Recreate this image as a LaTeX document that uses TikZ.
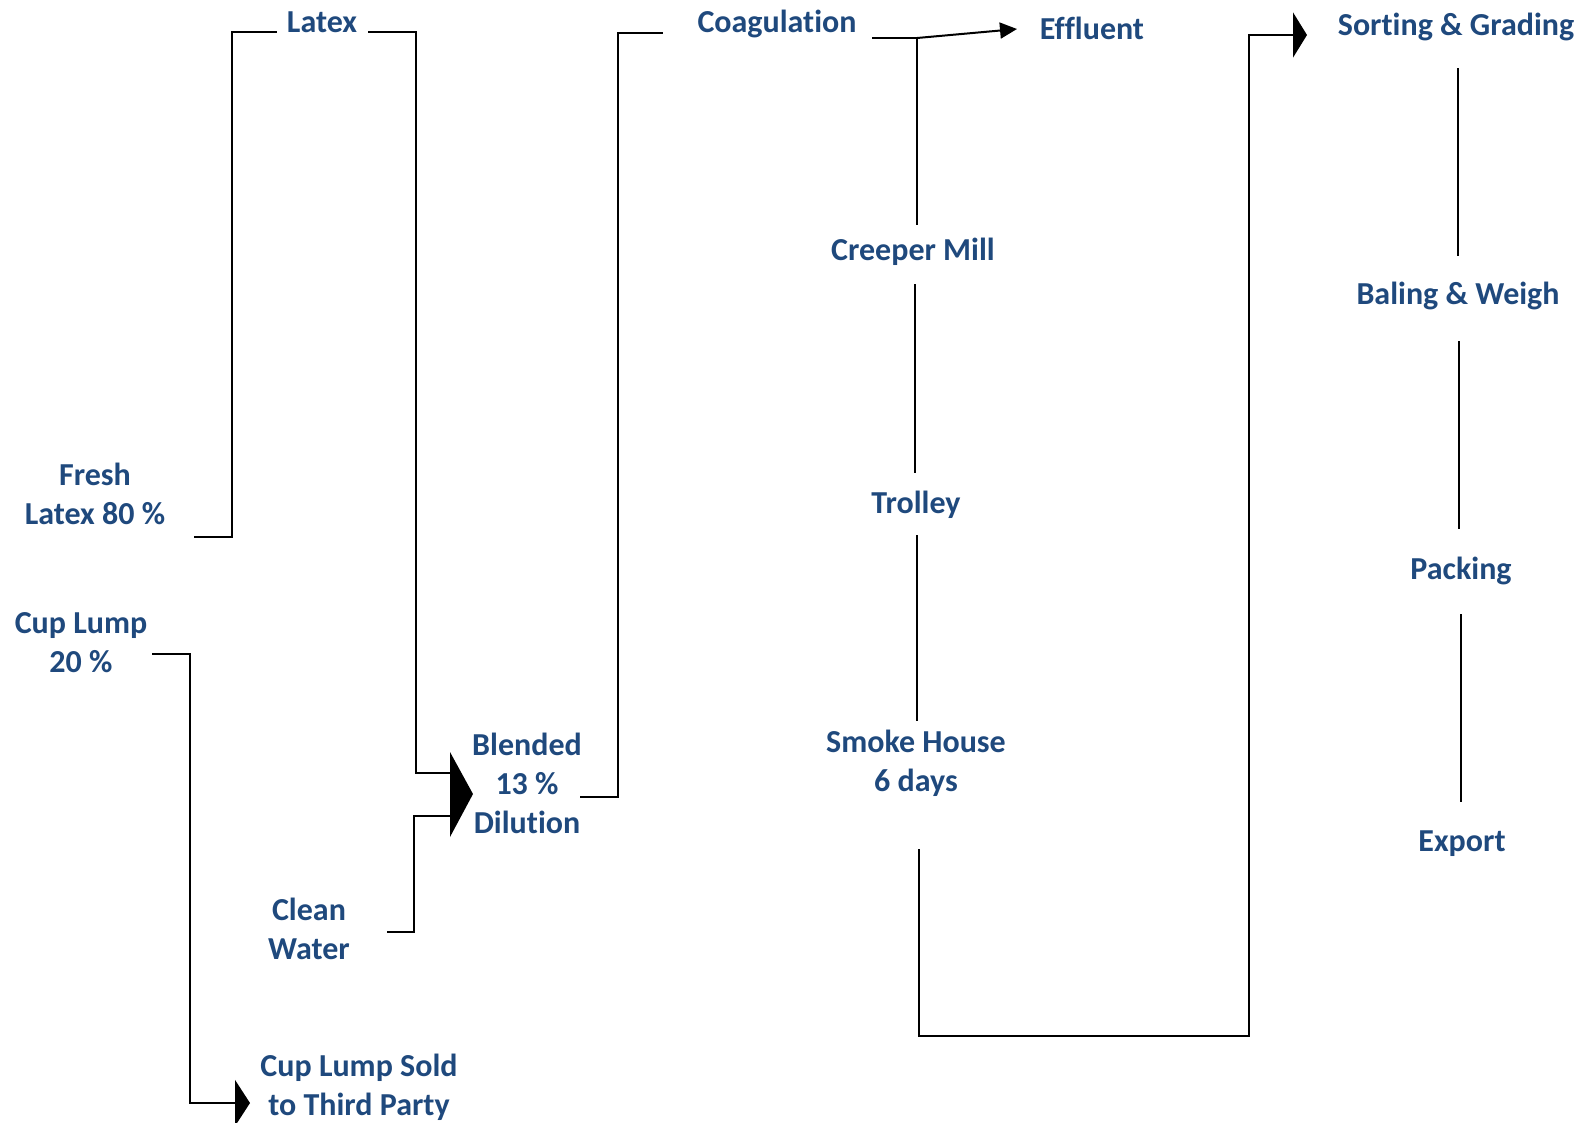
\documentclass[tikz,border=0pt]{standalone}
\usepackage{fontspec}
\setmainfont[Ligatures={NoCommon}]{Carlito}
\usetikzlibrary{arrows.meta}
\definecolor{txtblue}{HTML}{1F497D}
\tikzset{
  lbl/.style={font=\bfseries\fontsize{24}{29.3}\selectfont, text=txtblue, align=center, inner sep=0pt},
  conn/.style={draw=black, line width=1.5pt, line join=miter},
  bigtip/.style={-{Triangle[length=11.25pt, width=34.5pt]}},
  toptip/.style={-{Triangle[length=10.5pt, width=33.75pt]}},
  smalltip/.style={-{Triangle[length=12.75pt, width=12pt]}}
}
\begin{document}
\begin{tikzpicture}[x=0.75pt,y=-0.75pt]
\useasboundingbox (0,0) rectangle (1596,1122);
% text nodes
\node[lbl] (latex) at (322,22) {Latex};
\node[lbl] (fresh) at (95,494) {Fresh\\Latex 80 \%};
\node[lbl] (cuplump) at (81,643) {Cup Lump\\20 \%};
\node[lbl] (blended) at (527,783) {Blended\\13 \%\\Dilution};
\node[lbl] (water) at (309,929) {Clean\\Water};
\node[lbl] (sold) at (359,1087) {Cup Lump Sold\\to Third Party};
\node[lbl] (coag) at (777,24) {Coagulation};
\node[lbl] (effluent) at (1092,28) {Effluent};
\node[lbl] (creeper) at (913,252) {Creeper Mill};
\node[lbl] (trolley) at (916,505) {Trolley};
\node[lbl] (smoke) at (916,763) {Smoke House\\6 days};
\node[lbl] (sorting) at (1456,27) {Sorting \& Grading};
\node[lbl] (baling) at (1458,296) {Baling \& Weigh};
\node[lbl] (packing) at (1461,571) {Packing};
\node[lbl] (export) at (1462,844) {Export};
% connector end points
\coordinate (freshE) at (194,537);
\coordinate (latexW) at (277,32);
\coordinate (latexE) at (368,32);
\coordinate (blendIn1) at (450,773);
\coordinate (waterE) at (387,932);
\coordinate (blendIn2) at (450,816);
\coordinate (blendE) at (580,797);
\coordinate (coagW) at (663,33);
\coordinate (coagE) at (872,38);
\coordinate (junc) at (917,38);
\coordinate (effW) at (1017,29);
\coordinate (creepN) at (917,225);
\coordinate (creepS) at (915,284);
\coordinate (trolN) at (915,473);
\coordinate (trolS) at (917,535);
\coordinate (smokeN) at (917,721);
\coordinate (smokeS) at (919,849);
\coordinate (sortW) at (1307,35);
\coordinate (sortS) at (1458,68);
\coordinate (balN) at (1458,256);
\coordinate (balS) at (1459,341);
\coordinate (packN) at (1459,529);
\coordinate (packS) at (1461,614);
\coordinate (expN) at (1461,802);
\coordinate (cupE) at (152,654);
\coordinate (soldW) at (250,1103);
% connectors
\draw[conn] (freshE) -- (232,537) -- (232,32) -- (latexW);
\draw[conn] (latexE) -- (416,32) -- (416,773) -- (blendIn1);
\draw[conn] (waterE) -- (414,932) -- (414,816) -- (blendIn2);
\fill[black] (450,752) -- (473,794) -- (450,837) -- cycle;
\draw[conn] (blendE) -- (618,797) -- (618,33) -- (coagW);
\draw[conn] (coagE) -- (junc) -- (creepN);
\draw[conn, smalltip] (junc) -- (effW);
\draw[conn] (creepS) -- (trolN);
\draw[conn] (trolS) -- (smokeN);
\draw[conn, toptip] (smokeS) -- (919,1036) -- (1249,1036) -- (1249,35) -- (sortW);
\draw[conn] (sortS) -- (balN);
\draw[conn] (balS) -- (packN);
\draw[conn] (packS) -- (expN);
\draw[conn, bigtip] (cupE) -- (190,654) -- (190,1103) -- (soldW);
\end{tikzpicture}
\end{document}
